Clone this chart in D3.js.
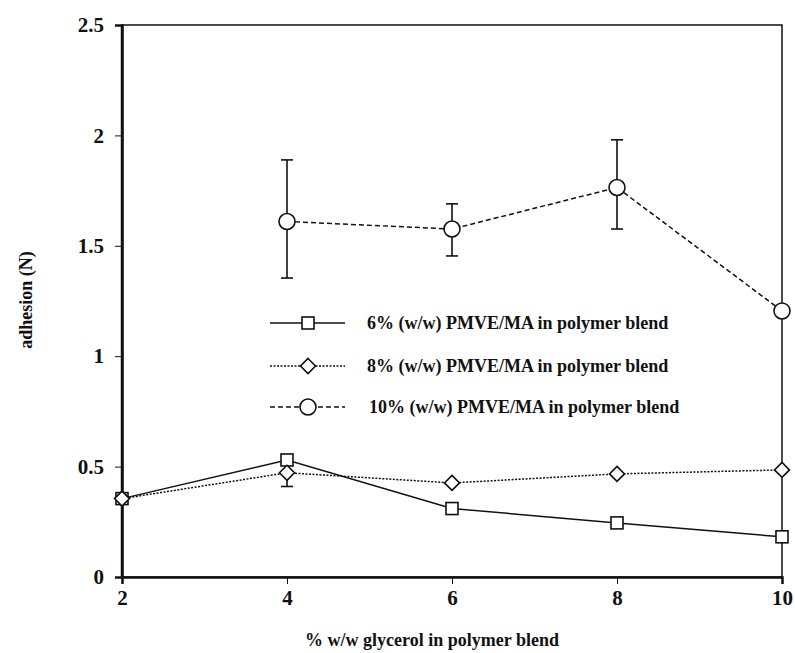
<!DOCTYPE html>
<html>
<head>
<meta charset="utf-8">
<script src="https://cdn.jsdelivr.net/npm/d3@7"></script>
<style>
  body { margin: 0; background: #fff; }
  svg text { font-family: "Liberation Serif", "Times New Roman", serif; font-weight: bold; fill: #111; }
</style>
</head>
<body>
<div id="chart"></div>
<script>
// glycerol content (x) and adhesion values per PMVE/MA level
var glycerol = [2, 4, 6, 8, 10];
var pmve6 = [0.355, 0.530, 0.310, 0.245, 0.182];
var pmve8 = [0.355, 0.472, 0.426, 0.467, 0.485];
var pmve10 = [null, 1.610, 1.576, 1.764, 1.205];
// error bars [low, high]
var err8 = [null, [0.41, 0.472], null, null, null];
var err10 = [null, [1.354, 1.889], [1.454, 1.690], [1.576, 1.980], null];
var xTicks = [2, 4, 6, 8, 10];
var yTicks = [0, 0.5, 1, 1.5, 2, 2.5];
var legendNames = ["6% (w/w) PMVE/MA in polymer blend", "8% (w/w) PMVE/MA in polymer blend", "10% (w/w) PMVE/MA in polymer blend"];

var W = 795, H = 653;
var m = {left: 122, right: 13, top: 25, bottom: 76};

var svg = d3.select("#chart").append("svg")
    .attr("width", W).attr("height", H);

var x = d3.scaleLinear().domain([2, 10]).range([m.left, W - m.right]);
var y = d3.scaleLinear().domain([0, 2.5]).range([H - m.bottom, m.top]);

// frame
svg.append("rect")
    .attr("x", x(2)).attr("y", y(2.5))
    .attr("width", x(10) - x(2)).attr("height", y(0) - y(2.5))
    .attr("fill", "none").attr("stroke", "#111").attr("stroke-width", 1.5);

var xAxis = svg.append("g")
    .attr("transform", "translate(0," + y(0) + ")")
    .call(d3.axisBottom(x).tickValues(xTicks).tickSize(7).tickPadding(6).tickFormat(d3.format("d")));
var yAxis = svg.append("g")
    .attr("transform", "translate(" + x(2) + ",0)")
    .call(d3.axisLeft(y).tickValues(yTicks).tickSize(7).tickPadding(11).tickFormat(function(d){ return d; }));
[xAxis, yAxis].forEach(function(a){
    a.select(".domain").attr("stroke", "#111").attr("stroke-width", 2.5);
    a.selectAll(".tick line").attr("stroke", "#111").attr("stroke-width", 1);
    a.selectAll(".tick text").style("font-size", "21px");
});
svg.append("line").attr("x1", x(2)).attr("x2", x(2)).attr("y1", y(0)).attr("y2", y(2.5))
    .attr("stroke", "#111").attr("stroke-width", 2.5);

// axis titles
svg.append("text")
    .attr("x", 432).attr("y", 646)
    .attr("text-anchor", "middle")
    .style("font-size", "18px")
    .text("% w/w glycerol in polymer blend");
svg.append("text")
    .attr("transform", "translate(32,300) rotate(-90)")
    .attr("text-anchor", "middle")
    .style("font-size", "18px")
    .text("adhesion (N)");

var series = [
  {vals: pmve6, dash: null, shape: "square", err: null},
  {vals: pmve8, dash: "2,1.5", shape: "diamond", err: err8},
  {vals: pmve10, dash: "5,3", shape: "circle", err: err10}
];

function drawMarker(g, shape, cx, cy) {
    if (shape === "square") {
        g.append("rect").attr("x", cx - 6).attr("y", cy - 6).attr("width", 12).attr("height", 12)
            .attr("fill", "#fff").attr("stroke", "#111").attr("stroke-width", 1.6);
    } else if (shape === "diamond") {
        g.append("path").attr("d", "M" + cx + "," + (cy - 7.5) + "L" + (cx + 7.5) + "," + cy + "L" + cx + "," + (cy + 7.5) + "L" + (cx - 7.5) + "," + cy + "Z")
            .attr("fill", "#fff").attr("stroke", "#111").attr("stroke-width", 1.6);
    } else {
        g.append("circle").attr("cx", cx).attr("cy", cy).attr("r", 8)
            .attr("fill", "#fff").attr("stroke", "#111").attr("stroke-width", 1.6);
    }
}

var line = d3.line()
    .defined(function(d){ return d[1] !== null; })
    .x(function(d){ return x(d[0]); })
    .y(function(d){ return y(d[1]); });

// error bars first
series.forEach(function(s){
    if (!s.err) return;
    s.err.forEach(function(e, i){
        if (!e) return;
        var g = svg.append("g");
        g.append("line").attr("x1", x(glycerol[i])).attr("x2", x(glycerol[i]))
            .attr("y1", y(e[0])).attr("y2", y(e[1])).attr("stroke", "#111").attr("stroke-width", 1.6);
        [e[0], e[1]].forEach(function(v){
            g.append("line").attr("x1", x(glycerol[i]) - 6).attr("x2", x(glycerol[i]) + 6)
                .attr("y1", y(v)).attr("y2", y(v)).attr("stroke", "#111").attr("stroke-width", 1.6);
        });
    });
});

series.forEach(function(s){
    var pts = glycerol.map(function(g, i){ return [g, s.vals[i]]; });
    svg.append("path").datum(pts).attr("d", line)
        .attr("fill", "none").attr("stroke", "#111").attr("stroke-width", 1.5)
        .attr("stroke-dasharray", s.dash);
});
series.forEach(function(s){
    var g = svg.append("g");
    glycerol.forEach(function(gl, i){
        if (s.vals[i] === null) return;
        drawMarker(g, s.shape, x(gl), y(s.vals[i]));
    });
});

// legend
var legY = [323, 366, 407];
series.forEach(function(s, i){
    var g = svg.append("g");
    g.append("line").attr("x1", 270).attr("x2", 345).attr("y1", legY[i]).attr("y2", legY[i])
        .attr("stroke", "#111").attr("stroke-width", 1.3).attr("stroke-dasharray", s.dash);
    drawMarker(g, s.shape, 308, legY[i]);
    g.append("text").attr("x", i === 2 ? 369 : 367).attr("y", legY[i] + 6)
        .style("font-size", "18px").text(legendNames[i]);
});
</script>
</body>
</html>
